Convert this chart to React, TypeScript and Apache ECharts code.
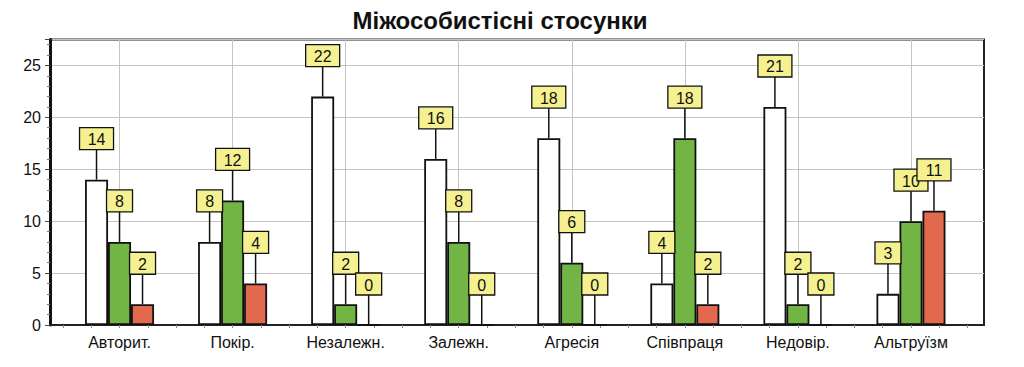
import React, { useEffect, useRef } from 'react';
import * as echarts from 'echarts';

const titleText = 'Міжособистісні стосунки';
const categories = ['Авторит.', 'Покір.', 'Незалежн.', 'Залежн.', 'Агресія', 'Співпраця', 'Недовір.', 'Альтруїзм'];
const whiteValues = [14, 8, 22, 16, 18, 4, 21, 3];
const greenValues = [8, 12, 2, 8, 6, 18, 2, 10];
const redValues = [2, 4, 0, 0, 0, 2, 0, 11];
const yMin = 0;
const yMax = 27.5;
const yInterval = 5;

const FONT = '"Liberation Sans", Arial, sans-serif';
const BAR_W = 23;
const seriesDefs = [
  { name: 'white', values: whiteValues, color: '#ffffff', offset: -BAR_W },
  { name: 'green', values: greenValues, color: '#72b545', offset: 0 },
  { name: 'red', values: redValues, color: '#e2684e', offset: BAR_W },
];

export default function App() {
  const ref = useRef<HTMLDivElement>(null);
  useEffect(() => {
    if (!ref.current) return;
    const chart = echarts.init(ref.current, null, { renderer: 'svg' });
    const gridV = { top: 39.5, bottom: 42 };
    const option: any = {
      animation: false,
      backgroundColor: '#ffffff',
      graphic: [
        {
          type: 'text',
          x: 500,
          y: 8,
          style: {
            text: titleText,
            fill: '#111',
            fontSize: 24,
            fontWeight: 'bold',
            fontFamily: FONT,
            align: 'center',
            verticalAlign: 'top',
          },
        },
      ],
      grid: [
        { left: 50, right: 40, ...gridV, show: true, borderColor: '#222', borderWidth: 2, backgroundColor: 'transparent' },
        { left: 63, right: 56.5, ...gridV },
      ],
      xAxis: [
        {
          gridIndex: 0, type: 'value', min: 0, max: 1, position: 'bottom',
          axisLine: { show: true, onZero: false, lineStyle: { color: '#222', width: 2 } },
          axisTick: { show: false }, axisLabel: { show: false }, splitLine: { show: false },
        },
        {
          gridIndex: 1, type: 'category', data: categories, position: 'bottom',
          axisLine: { show: false }, axisTick: { show: false }, splitLine: { show: false },
          axisLabel: { show: true, interval: 0, margin: 9, fontSize: 16, color: '#111', fontFamily: FONT },
        },
        {
          gridIndex: 1, type: 'category', boundaryGap: false, position: 'bottom',
          data: Array.from({ length: categories.length * 2 + 1 }, (_, i) => String(i)),
          axisLine: { show: false }, axisTick: { show: false }, axisLabel: { show: false },
          splitLine: {
            show: true,
            interval: (index: number) => index % 2 === 1,
            lineStyle: { color: '#c4c4c4', width: 1 },
          },
        },
        {
          gridIndex: 1, type: 'value', min: -0.5, max: categories.length - 0.5, interval: 0.25, position: 'bottom',
          axisLine: { show: false, onZero: false }, axisLabel: { show: false }, splitLine: { show: false },
          axisTick: { show: true, length: 3, lineStyle: { color: '#888', width: 1 } },
        },
      ],
      yAxis: [
        {
          gridIndex: 0, type: 'value', min: yMin, max: yMax, interval: yInterval,
          axisLine: { show: true, lineStyle: { color: '#111', width: 3 } },
          axisTick: { show: true, length: 5, lineStyle: { color: '#444' } },
          minorTick: { show: true, splitNumber: 5, length: 3, lineStyle: { color: '#777' } },
          axisLabel: {
            fontSize: 16, color: '#111', fontFamily: FONT, margin: 9,
            formatter: (v: number) => (v % yInterval === 0 ? String(v) : ''),
          },
          splitLine: { show: true, lineStyle: { color: '#c4c4c4', width: 1 } },
        },
        { gridIndex: 1, type: 'value', min: yMin, max: yMax, interval: yInterval, show: false },
      ],
      series: [
        ...seriesDefs.map((s) => ({
          type: 'bar',
          name: s.name,
          xAxisIndex: 1,
          yAxisIndex: 1,
          data: s.values,
          barWidth: BAR_W,
          barGap: '0%',
          itemStyle: { color: s.color, borderColor: '#111', borderWidth: 1.8 },
          z: 3,
        })),
        ...seriesDefs.map((s) => ({
          type: 'custom',
          name: s.name + '-label',
          xAxisIndex: 1,
          yAxisIndex: 1,
          clip: false,
          z: 5,
          data: s.values.map((v, i) => [i, v]),
          renderItem: (params: any, api: any) => {
            const pt = api.coord([api.value(0), api.value(1)]);
            const x = pt[0] + s.offset;
            const y = pt[1];
            const val = api.value(1);
            const txt = String(val);
            const w = txt.length > 1 ? 34 : 26;
            const h = 22;
            const stem = 30;
            return {
              type: 'group',
              children: [
                { type: 'line', shape: { x1: x, y1: y, x2: x, y2: y - stem }, style: { stroke: '#111', lineWidth: 1.5 } },
                { type: 'rect', shape: { x: x - w / 2, y: y - stem - h, width: w, height: h }, style: { fill: '#f6f190', stroke: '#111', lineWidth: 1.3 } },
                {
                  type: 'text',
                  x: x,
                  y: y - stem - h / 2 + 1,
                  style: { text: txt, fill: '#111', fontSize: 16, fontFamily: FONT, align: 'center', verticalAlign: 'middle' },
                },
              ],
            };
          },
        })),
      ],
    };
    chart.setOption(option);
    return () => chart.dispose();
  }, []);
  return <div ref={ref} style={{ position: 'fixed', left: 0, top: 0, width: 1024, height: 367 }} />;
}
